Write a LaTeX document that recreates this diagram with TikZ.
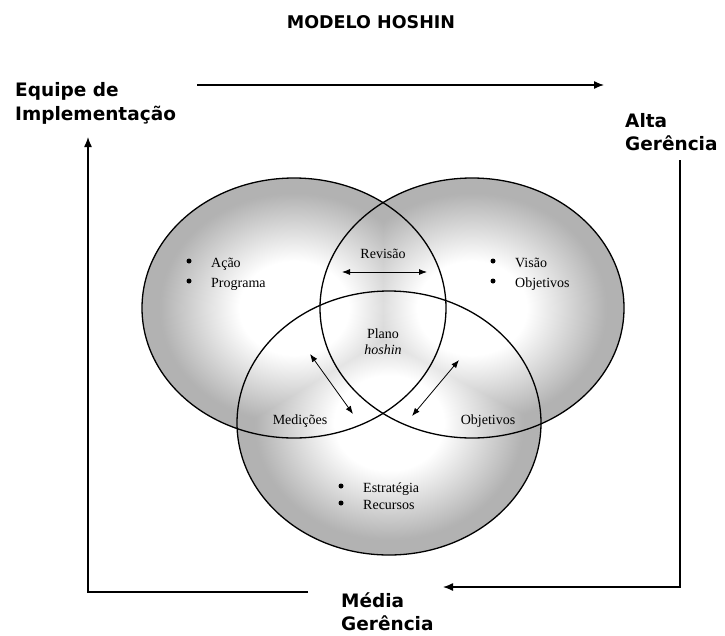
\documentclass[tikz,border=0pt]{standalone}
\usepackage{fontspec}
\setmainfont{Liberation Serif}
\newfontfamily\labelfont{DejaVu Sans}
\usetikzlibrary{arrows.meta}

% soft radial fill: white core fading to grey at the rim
\pgfdeclareradialshading{vennball}{\pgfpoint{0bp}{0bp}}{%
  color(0bp)=(white); color(9bp)=(white); color(22bp)=(black!30); color(50bp)=(black!32)}

\tikzset{
  setfill/.style={shading=vennball, blend mode=lighten},
  setline/.style={draw=black, line width=1.3pt},
  outerlabel/.style={font=\labelfont\bfseries\fontsize{18.5}{22}\selectfont, anchor=base west, inner sep=0pt},
  titlelabel/.style={font=\labelfont\bfseries\fontsize{17.5}{20}\selectfont, anchor=base, inner sep=0pt},
  innerlabel/.style={font=\fontsize{14}{16}\selectfont, anchor=base, inner sep=0pt},
  itemlabel/.style={font=\fontsize{14}{16}\selectfont, anchor=base west, inner sep=0pt},
  bulletdot/.style={circle, fill=black, inner sep=0pt, minimum size=5pt},
  flowarrow/.style={line width=1.3pt, -{Latex[length=10pt,width=8pt]}},
  linkarrow/.style={line width=0.8pt, {Latex[length=8pt,width=6pt]}-{Latex[length=8pt,width=6pt]}}
}

\begin{document}
\begin{tikzpicture}[x=1pt, y=-1pt]
\useasboundingbox (0,0) rectangle (725,635);

% ---- the three overlapping sets ----
\coordinate (cL) at (294,308);
\coordinate (cR) at (472,308);
\coordinate (cB) at (389,423);

% overlaps keep the lighter of the two shadings
\begin{scope}[transparency group]
\shade[setfill] (cL) ellipse [x radius=152, y radius=130];
\shade[setfill] (cR) ellipse [x radius=152, y radius=130];
\shade[setfill] (cB) ellipse [x radius=152, y radius=132];
\end{scope}

\draw[setline] (cL) ellipse [x radius=152, y radius=130];
\draw[setline] (cR) ellipse [x radius=152, y radius=130];
\draw[setline] (cB) ellipse [x radius=152, y radius=132];

% ---- title ----
\node[titlelabel] (title) at (371,28) {MODELO HOSHIN};

% ---- the three management levels ----
\node[outerlabel] (equipeA) at (15,96) {Equipe de};
\node[outerlabel] (equipeB) at (15,120) {Implementação};
\node[outerlabel] (altaA) at (625,127) {Alta};
\node[outerlabel] (altaB) at (625,150) {Gerência};
\node[outerlabel] (mediaA) at (341,607) {Média};
\node[outerlabel] (mediaB) at (341,630) {Gerência};

% ---- cycle between the levels ----
\coordinate (topS) at (197,85);
\coordinate (topE) at (604,85);
\coordinate (rightS) at (680,160);
\coordinate (rightC) at (680,587);
\coordinate (rightE) at (443,587);
\coordinate (leftS) at (308,592);
\coordinate (leftC) at (88,592);
\coordinate (leftE) at (88,137);

\draw[flowarrow] (topS) -- (topE);
\draw[flowarrow] (rightS) -- (rightC) -- (rightE);
\draw[flowarrow] (leftS) -- (leftC) -- (leftE);

% ---- contents of each set ----
\node[bulletdot] (bA1) at (189,261) {};
\node[itemlabel] (acao) at (211,267) {Ação};
\node[bulletdot] (bA2) at (189,281) {};
\node[itemlabel] (programa) at (211,287) {Programa};

\node[bulletdot] (bV1) at (493,261) {};
\node[itemlabel] (visao) at (515,267) {Visão};
\node[bulletdot] (bV2) at (493,281) {};
\node[itemlabel] (objA) at (515,287) {Objetivos};

\node[bulletdot] (bE1) at (341,486) {};
\node[itemlabel] (estrategia) at (363,492) {Estratégia};
\node[bulletdot] (bE2) at (341,503) {};
\node[itemlabel] (recursos) at (363,509) {Recursos};

% ---- overlaps ----
\node[innerlabel] (revisao) at (383,258) {Revisão};
\node[innerlabel] (plano) at (383,338) {Plano};
\node[innerlabel] (hoshin) at (383,354) {\itshape hoshin};
\node[innerlabel] (medicoes) at (300,424) {Medições};
\node[innerlabel] (objB) at (488,424) {Objetivos};

% ---- exchanges between the overlaps ----
\coordinate (revL) at (342,272);
\coordinate (revR) at (427,272);
\coordinate (medA) at (310,354);
\coordinate (medB) at (353,414);
\coordinate (objP) at (459,360);
\coordinate (objQ) at (412,416);

\draw[linkarrow] (revL) -- (revR);
\draw[linkarrow] (medA) -- (medB);
\draw[linkarrow] (objP) -- (objQ);
\end{tikzpicture}
\end{document}
